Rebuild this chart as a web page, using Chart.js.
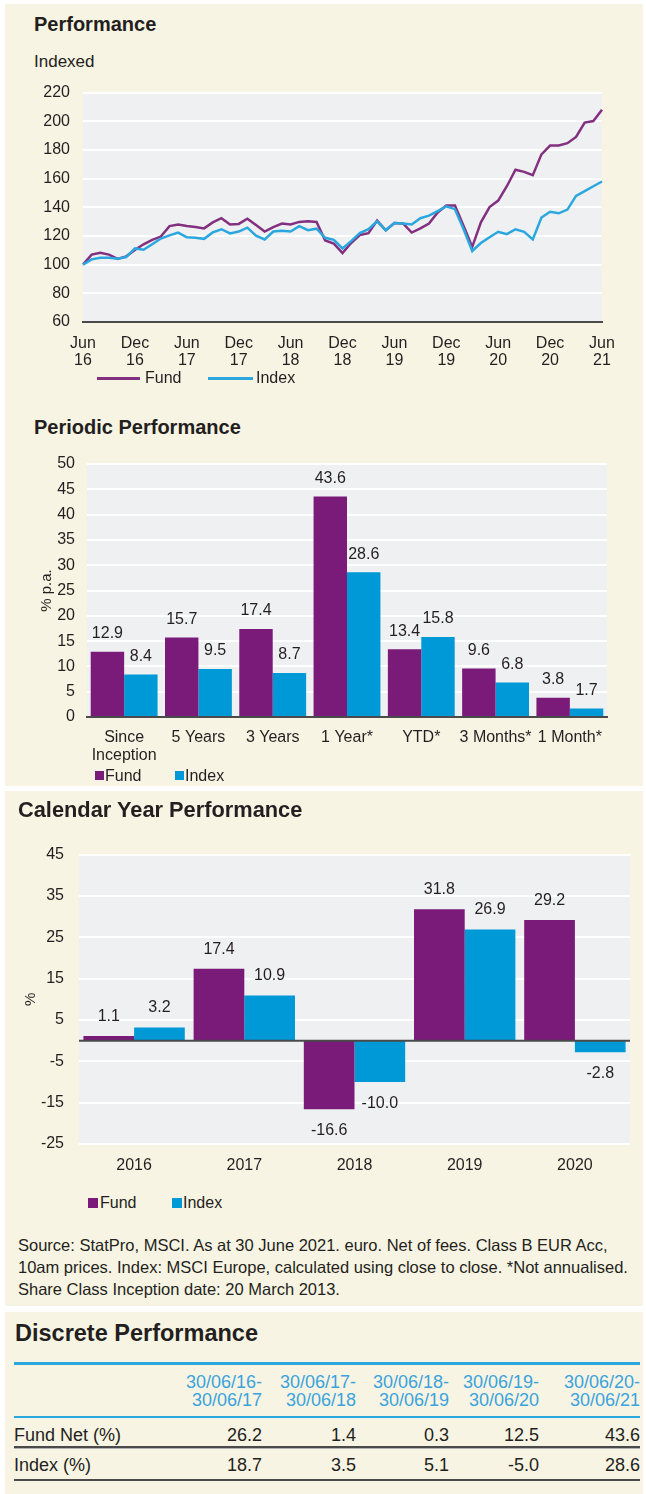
<!DOCTYPE html>
<html>
<head>
<meta charset="utf-8">
<script src="https://cdn.jsdelivr.net/npm/chart.js@4.4.1/dist/chart.umd.min.js"></script>
<style>
  body { margin: 0; width: 646px; height: 1494px; background: #fff; position: relative; overflow: hidden;
         font-family: "Liberation Sans", Arial, sans-serif; color: #231f20; }
  .panel { position: absolute; left: 5px; width: 638px; background: #f8f4e3; }
  .abs { position: absolute; white-space: nowrap; }
  .title { font-weight: bold; font-size: 20px; line-height: 24px; }
  .box { position: absolute; }
  .lg { position: absolute; font-size: 16px; line-height: 18px; white-space: nowrap; }
  .sq { position: absolute; width: 9px; height: 9px; }
  .ln { position: absolute; height: 3px; }
  .src { font-size: 16.5px; line-height: 22px; }
  .th { position: absolute; font-size: 18px; line-height: 18px; color: #3aa3dc; text-align: right; white-space: nowrap; }
  .td { position: absolute; font-size: 18px; line-height: 20px; text-align: right; white-space: nowrap; }
</style>
</head>
<body>
<div class="panel" style="top:4px;height:782px"></div>
<div class="panel" style="top:791px;height:515px"></div>
<div class="panel" style="top:1312px;height:182px"></div>

<div class="abs title" style="left:34px;top:12px">Performance</div>
<div class="abs" style="left:34px;top:52px;font-size:17px;line-height:20px">Indexed</div>
<div class="box" style="left:0;top:70px;width:646px;height:300px"><canvas id="perfChart"></canvas></div>
<div class="ln" style="left:97px;top:377px;width:43px;background:#82307f"></div>
<div class="lg" style="left:145px;top:369px">Fund</div>
<div class="ln" style="left:208px;top:377px;width:45px;background:#2aa7df"></div>
<div class="lg" style="left:256px;top:369px">Index</div>

<div class="abs title" style="left:34px;top:415px">Periodic Performance</div>
<div class="box" style="left:0;top:440px;width:646px;height:330px"><canvas id="periodChart"></canvas></div>
<div class="sq" style="left:95px;top:771px;background:#7a1a79"></div>
<div class="lg" style="left:105px;top:767px">Fund</div>
<div class="sq" style="left:175px;top:771px;background:#0099d8"></div>
<div class="lg" style="left:185px;top:767px">Index</div>

<div class="abs title" style="left:18px;top:798px;font-size:21.8px">Calendar Year Performance</div>
<div class="box" style="left:0;top:830px;width:646px;height:360px"><canvas id="yearChart"></canvas></div>
<div class="sq" style="left:88px;top:1198px;width:10px;height:10px;background:#7a1a79"></div>
<div class="lg" style="left:100px;top:1194px">Fund</div>
<div class="sq" style="left:172px;top:1198px;width:10px;height:10px;background:#0099d8"></div>
<div class="lg" style="left:183px;top:1194px">Index</div>

<div class="abs src" style="left:18px;top:1234px">Source: StatPro, MSCI. As at 30 June 2021. euro. Net of fees. Class B EUR Acc,<br>10am prices. Index: MSCI Europe, calculated using close to close. *Not annualised.<br>Share Class Inception date: 20 March 2013.</div>

<div class="abs title" style="left:15px;top:1319px;font-size:23.5px;line-height:28px">Discrete Performance</div>
<div id="table"></div>

<script>
// monthly indexed performance, Jun 16 = 100
const months = [
  'Jun 16', 'Jul 16', 'Aug 16', 'Sep 16', 'Oct 16', 'Nov 16', 'Dec 16',
  'Jan 17', 'Feb 17', 'Mar 17', 'Apr 17', 'May 17', 'Jun 17', 'Jul 17', 'Aug 17', 'Sep 17', 'Oct 17', 'Nov 17', 'Dec 17',
  'Jan 18', 'Feb 18', 'Mar 18', 'Apr 18', 'May 18', 'Jun 18', 'Jul 18', 'Aug 18', 'Sep 18', 'Oct 18', 'Nov 18', 'Dec 18',
  'Jan 19', 'Feb 19', 'Mar 19', 'Apr 19', 'May 19', 'Jun 19', 'Jul 19', 'Aug 19', 'Sep 19', 'Oct 19', 'Nov 19', 'Dec 19',
  'Jan 20', 'Feb 20', 'Mar 20', 'Apr 20', 'May 20', 'Jun 20', 'Jul 20', 'Aug 20', 'Sep 20', 'Oct 20', 'Nov 20', 'Dec 20',
  'Jan 21', 'Feb 21', 'Mar 21', 'Apr 21', 'May 21', 'Jun 21'
];
const fundIndexed = [
  100, 107, 108.3, 107, 104, 105.8, 110.2,
  114.2, 117.3, 119.6, 126.9, 128, 126.9, 126.2, 125.3, 129.5, 132.4, 128, 128.4,
  132, 127.6, 123.1, 126.2, 128.7, 128, 129.8, 130.2, 129.8, 116.9, 114.7, 108,
  115.1, 120.7, 122, 130.7, 124, 129.1, 128.7, 122.4, 125.3, 128.7, 136.4, 141.3,
  141.3, 127, 112.4, 129.5, 140.2, 144.7, 154.7, 166.2, 164.7, 162.4, 176.9, 183.1,
  183.1, 184.7, 189.1, 199.1, 200.2, 208
];
const indexIndexed = [
  100, 103.7, 104.8, 104.8, 104.2, 105.3, 111.3,
  110.4, 114.2, 118.2, 120.4, 122.4, 119.1, 118.7, 118, 122.5, 124.7, 121.8, 123.1,
  125.8, 120.2, 117.6, 123.1, 123.6, 123.1, 126.9, 124, 125.1, 118.7, 117.3, 111.3,
  116.4, 122, 124.7, 130.2, 124, 129.1, 128.7, 128, 132.4, 134.2, 137.3, 140.7,
  138.7, 124.7, 109.5, 115.1, 119.1, 122.9, 121.3, 124.7, 122.9, 117.6, 132.9, 136.9,
  135.8, 138.4, 148, 151.3, 154.7, 158
];

// periodic performance (% p.a.)
const periods = [['Since', 'Inception'], '5 Years', '3 Years', '1 Year*', 'YTD*', '3 Months*', '1 Month*'];
const periodFund = [12.9, 15.7, 17.4, 43.6, 13.4, 9.6, 3.8];
const periodIndex = [8.4, 9.5, 8.7, 28.6, 15.8, 6.8, 1.7];

// calendar year performance (%)
const years = ['2016', '2017', '2018', '2019', '2020'];
const yearFund = [1.1, 17.4, -16.6, 31.8, 29.2];
const yearIndex = [3.2, 10.9, -10.0, 26.9, -2.8];
const yearTicks = [-25, -15, -5, 5, 15, 25, 35, 45];

// discrete performance table
const discretePeriods = [
  ['30/06/16-', '30/06/17'], ['30/06/17-', '30/06/18'], ['30/06/18-', '30/06/19'],
  ['30/06/19-', '30/06/20'], ['30/06/20-', '30/06/21']
];
const discreteFund = [26.2, 1.4, 0.3, 12.5, 43.6];
const discreteIndex = [18.7, 3.5, 5.1, -5.0, 28.6];

const FUND = '#7a1a79';
const INDEX = '#0099d8';

Chart.defaults.font.family = '"Liberation Sans", Arial, sans-serif';
Chart.defaults.font.size = 16;
Chart.defaults.color = '#231f20';

// grey plot background
const plotBg = {
  id: 'plotBg',
  beforeDraw(chart) {
    const { ctx, chartArea: a } = chart;
    ctx.save();
    ctx.fillStyle = '#eff0f2';
    ctx.fillRect(a.left, a.top, a.right - a.left, a.bottom - a.top);
    ctx.restore();
  }
};

// value labels above / below bars
const barLabels = {
  id: 'barLabels',
  afterDatasetsDraw(chart, args, opts) {
    const ctx = chart.ctx;
    ctx.save();
    ctx.font = '16px "Liberation Sans", Arial, sans-serif';
    ctx.fillStyle = '#231f20';
    ctx.textAlign = 'center';
    ctx.textBaseline = 'middle';
    chart.data.datasets.forEach((ds, i) => {
      chart.getDatasetMeta(i).data.forEach((bar, j) => {
        const v = ds.data[j];
        const y = v >= 0 ? bar.y - opts.above : bar.y + opts.below;
        ctx.fillText(v.toFixed(1), bar.x, y);
      });
    });
    ctx.restore();
  }
};

// dark line at zero
const zeroLine = {
  id: 'zeroLine',
  afterDatasetsDraw(chart) {
    const { ctx, chartArea: a } = chart;
    const y = chart.scales.y.getPixelForValue(0);
    ctx.save();
    ctx.strokeStyle = '#4a4a4a';
    ctx.lineWidth = 2;
    ctx.beginPath();
    ctx.moveTo(a.left, y);
    ctx.lineTo(a.right, y);
    ctx.stroke();
    ctx.restore();
  }
};

new Chart(document.getElementById('perfChart'), {
  type: 'line',
  data: {
    labels: months,
    datasets: [
      { label: 'Fund', data: fundIndexed, borderColor: '#82307f', borderWidth: 2.5, pointRadius: 0, order: 1 },
      { label: 'Index', data: indexIndexed, borderColor: '#2aa7df', borderWidth: 2.5, pointRadius: 0, order: 0 }
    ]
  },
  options: {
    responsive: true,
    maintainAspectRatio: false,
    animation: false,
    layout: { padding: { left: 43, right: 44, top: 12, bottom: 0 } },
    plugins: { legend: { display: false }, tooltip: { enabled: false } },
    scales: {
      x: {
        grid: { display: false, drawTicks: false },
        border: { display: true, color: '#4a4a4a', width: 2 },
        ticks: {
          autoSkip: false, maxRotation: 0, padding: 13,
          font: { size: 16, lineHeight: 1.05 },
          callback: (v, i) => (i % 6 === 0 ? months[i].split(' ') : null)
        },
        afterFit: s => { s.height = 48; }
      },
      y: {
        min: 60, max: 220,
        ticks: { stepSize: 20, padding: 13 },
        grid: { color: '#ffffff', lineWidth: 2, drawTicks: false },
        border: { display: false },
        afterFit: s => { s.width = 40; }
      }
    }
  },
  plugins: [plotBg]
});

new Chart(document.getElementById('periodChart'), {
  type: 'bar',
  data: {
    labels: periods,
    datasets: [
      { label: 'Fund', data: periodFund, backgroundColor: FUND, categoryPercentage: 0.9, barPercentage: 1 },
      { label: 'Index', data: periodIndex, backgroundColor: INDEX, categoryPercentage: 0.9, barPercentage: 1 }
    ]
  },
  options: {
    responsive: true,
    maintainAspectRatio: false,
    animation: false,
    layout: { padding: { left: 0, right: 39, top: 24, bottom: 0 } },
    plugins: { legend: { display: false }, tooltip: { enabled: false }, barLabels: { above: 18, below: 18 } },
    scales: {
      x: {
        grid: { display: false, drawTicks: false },
        border: { display: true, color: '#4a4a4a', width: 2 },
        ticks: { autoSkip: false, maxRotation: 0, padding: 12, font: { size: 16, lineHeight: 1.125 } },
        afterFit: s => { s.height = 53; }
      },
      y: {
        min: 0, max: 50,
        ticks: { stepSize: 5, padding: 12 },
        grid: { color: '#ffffff', lineWidth: 2, drawTicks: false },
        border: { display: false },
        title: { display: true, text: '% p.a.', font: { size: 15 }, padding: { top: 38, bottom: 0 } },
        afterFit: s => { s.width = 87; }
      }
    }
  },
  plugins: [plotBg, barLabels]
});

new Chart(document.getElementById('yearChart'), {
  type: 'bar',
  data: {
    labels: years,
    datasets: [
      { label: 'Fund', data: yearFund, backgroundColor: FUND, categoryPercentage: 0.92, barPercentage: 1 },
      { label: 'Index', data: yearIndex, backgroundColor: INDEX, categoryPercentage: 0.92, barPercentage: 1 }
    ]
  },
  options: {
    responsive: true,
    maintainAspectRatio: false,
    animation: false,
    layout: { padding: { left: 0, right: 16, top: 19, bottom: 0 } },
    plugins: { legend: { display: false }, tooltip: { enabled: false }, barLabels: { above: 19.5, below: 21.5 } },
    scales: {
      x: {
        grid: { display: false, drawTicks: false },
        border: { display: false },
        ticks: { padding: 12 },
        afterFit: s => { s.height = 46; }
      },
      y: {
        min: -25, max: 45,
        afterBuildTicks: s => { s.ticks = yearTicks.map(v => ({ value: v })); },
        ticks: { padding: 15 },
        grid: { color: '#ffffff', lineWidth: 2, drawTicks: false },
        border: { display: false },
        title: { display: true, text: '%', font: { size: 15 }, padding: { top: 22, bottom: 0 } },
        afterFit: s => { s.width = 79; }
      }
    }
  },
  plugins: [plotBg, zeroLine, barLabels]
});

// discrete performance table
const colRight = [262, 356, 449, 539, 640];
let html = '';
html += '<div class="abs" style="left:14px;top:1362px;width:626px;height:3px;background:#2aa7df"></div>';
discretePeriods.forEach((p, i) => {
  html += `<div class="th" style="left:${colRight[i] - 100}px;width:100px;top:1373px">${p[0]}</div>`;
  html += `<div class="th" style="left:${colRight[i] - 100}px;width:100px;top:1391px">${p[1]}</div>`;
});
html += '<div class="abs" style="left:14px;top:1416px;width:626px;height:2px;background:#2aa7df"></div>';
html += '<div class="td" style="left:14px;top:1425px;text-align:left">Fund Net (%)</div>';
discreteFund.forEach((v, i) => {
  html += `<div class="td" style="left:${colRight[i] - 100}px;width:100px;top:1425px">${v.toFixed(1)}</div>`;
});
html += '<div class="abs" style="left:14px;top:1446px;width:626px;height:2px;background:#4a4a4a"></div>';
html += '<div class="abs" style="left:14px;top:1448px;width:626px;height:1px;background:#b0b0b0"></div>';
html += '<div class="td" style="left:14px;top:1455px;text-align:left">Index (%)</div>';
discreteIndex.forEach((v, i) => {
  html += `<div class="td" style="left:${colRight[i] - 100}px;width:100px;top:1455px">${v.toFixed(1)}</div>`;
});
html += '<div class="abs" style="left:14px;top:1479px;width:626px;height:2px;background:#4a4a4a"></div>';
document.getElementById('table').innerHTML = html;
</script>
</body>
</html>
